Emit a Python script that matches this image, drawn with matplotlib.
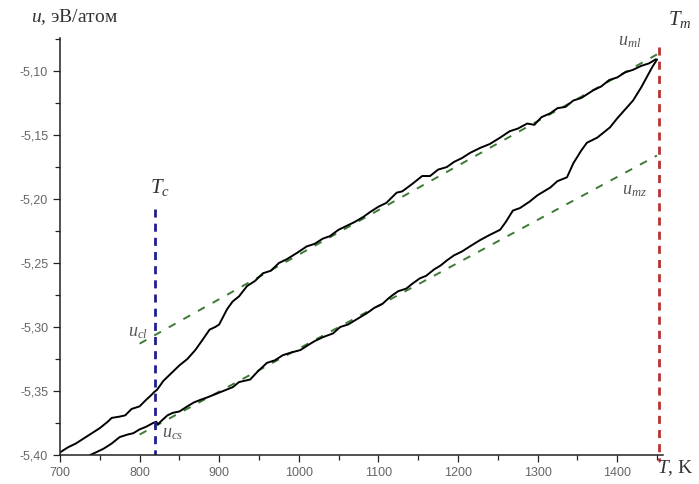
# plot.py - internal energy vs temperature, heating/cooling loop

import matplotlib
matplotlib.use("Agg")  # render to file, no GUI
import matplotlib.pyplot as plt
from matplotlib.ticker import MultipleLocator, FuncFormatter

# Cooling branch (liquid)
t_upper = [700, 710, 720, 730, 740, 750, 760, 765, 775, 782, 790, 800, 808,
           815, 818, 822, 830, 840, 850, 860, 870, 878, 888, 895, 900,
           905, 910, 917, 925, 935, 945, 955, 965, 975, 985, 998, 1010, 1020,
           1030, 1039, 1050, 1060, 1070, 1081, 1090, 1100, 1110, 1123, 1130,
           1143, 1155, 1165, 1175, 1186, 1195, 1205, 1215, 1228, 1240, 1253,
           1265, 1275, 1287, 1296, 1305, 1316, 1325, 1335, 1345, 1355, 1370,
           1380, 1390, 1400, 1410, 1420, 1430, 1440, 1448]
u_upper = [-5.398, -5.394, -5.391, -5.387, -5.383, -5.379, -5.374, -5.371,
           -5.370, -5.369, -5.364, -5.362, -5.357, -5.353, -5.351, -5.349,
           -5.342, -5.336, -5.330, -5.325, -5.318, -5.311, -5.302, -5.300,
           -5.298, -5.292, -5.286, -5.280, -5.276, -5.268, -5.264, -5.258,
           -5.256, -5.250, -5.247, -5.242, -5.237, -5.235, -5.231, -5.229,
           -5.224, -5.221, -5.218, -5.214, -5.210, -5.206, -5.203, -5.195,
           -5.194, -5.188, -5.182, -5.182, -5.177, -5.175, -5.171, -5.168,
           -5.164, -5.160, -5.157, -5.152, -5.147, -5.145, -5.141, -5.142,
           -5.136, -5.133, -5.129, -5.128, -5.123, -5.121, -5.115, -5.112,
           -5.107, -5.105, -5.101, -5.099, -5.096, -5.094, -5.091]

# Heating branch (crystal)
t_lower = [738, 745, 755, 765, 775, 785, 792, 800, 808, 817, 821, 823, 828, 835,
           842, 850, 860, 868, 876, 885, 897, 905, 917, 925, 939, 948, 960, 970,
           980, 990, 1002, 1012, 1020, 1030, 1043, 1052, 1062, 1070, 1078, 1086,
           1095, 1105, 1112, 1118, 1125, 1135, 1143, 1152, 1160, 1170, 1178,
           1186, 1195, 1205, 1215, 1228, 1240, 1253, 1260, 1269, 1278, 1290,
           1300, 1316, 1325, 1337, 1345, 1355, 1362, 1375, 1391, 1400, 1410,
           1420, 1430, 1437, 1444, 1450]
u_lower = [-5.400, -5.398, -5.395, -5.391, -5.386, -5.384, -5.383, -5.380,
           -5.378, -5.375, -5.374, -5.376, -5.373, -5.369, -5.367, -5.366,
           -5.362, -5.359, -5.357, -5.355, -5.352, -5.350, -5.347, -5.343,
           -5.341, -5.335, -5.328, -5.326, -5.322, -5.320, -5.318, -5.314,
           -5.311, -5.308, -5.305, -5.300, -5.298, -5.295, -5.292, -5.289,
           -5.285, -5.282, -5.278, -5.275, -5.272, -5.270, -5.266, -5.262,
           -5.260, -5.255, -5.252, -5.248, -5.244, -5.241, -5.237, -5.232,
           -5.228, -5.224, -5.218, -5.209, -5.207, -5.202, -5.197, -5.191,
           -5.186, -5.183, -5.172, -5.162, -5.156, -5.152, -5.144, -5.137,
           -5.130, -5.123, -5.113, -5.105, -5.097, -5.091]

# Linear fits (green dashed)
fit_t = [800, 1450]
fit_liquid = [-5.313, -5.087]
fit_solid = [-5.384, -5.166]

# Characteristic temperatures
t_c = 820
t_m = 1452

plt.rcParams["mathtext.fontset"] = "custom"
plt.rcParams["mathtext.rm"] = "Liberation Serif"
plt.rcParams["mathtext.it"] = "Liberation Serif:italic"

fig = plt.figure(figsize=(6.99, 4.84), dpi=100)
ax = fig.add_axes([0.0858, 0.0599, 0.862, 0.862])

ax.plot(fit_t, fit_liquid, color="#3d7a35", lw=1.4, linestyle=(0, (4, 4.6)))
ax.plot(fit_t, fit_solid, color="#3d7a35", lw=1.4, linestyle=(0, (4, 4.6)))
ax.plot(t_upper, u_upper, color="black", lw=1.4)
ax.plot(t_lower, u_lower, color="black", lw=1.4)

ax.plot([t_c, t_c], [-5.208, -5.40], color="#1f1f8f", lw=2.0,
        linestyle=(0, (2.9, 2.2)))
ax.plot([t_m, t_m], [-5.081, -5.405], color="#b83232", lw=2.0,
        linestyle=(0, (2.9, 2.2)), clip_on=False)

ax.set_xlim(700, 1457)
ax.set_ylim(-5.40, -5.074)

for side in ["top", "right"]:
    ax.spines[side].set_visible(False)
for side in ["left", "bottom"]:
    ax.spines[side].set_linewidth(1.1)
    ax.spines[side].set_color("#222222")

ax.xaxis.set_major_locator(MultipleLocator(100))
ax.xaxis.set_minor_locator(MultipleLocator(50))
ax.yaxis.set_major_locator(MultipleLocator(0.05))
ax.yaxis.set_minor_locator(MultipleLocator(0.025))
ax.yaxis.set_major_formatter(FuncFormatter(lambda v, p: f"{v:.2f}".replace(".", ",")))
ax.tick_params(which="both", direction="out", color="#222222", width=0.9,
               labelsize=9, labelcolor="#666666")
ax.tick_params(which="major", length=5)
ax.tick_params(which="minor", length=3.5)
for lab in ax.get_xticklabels() + ax.get_yticklabels():
    lab.set_fontfamily("Liberation Sans")

serif = "Liberation Serif"
fig.text(0.045, 0.965, "$u$, эВ/атом", fontsize=14, family=serif,
         color="#333333", va="center", ha="left")
fig.text(0.94, 0.012, "$T$, K", fontsize=14, family=serif,
         color="#333333", va="bottom", ha="left")

ax.text(1479, -5.060, "$T_m$", fontsize=15, family=serif, color="#333333",
        ha="center", va="center", clip_on=False)
ax.text(1416, -5.077, "$u_{ml}$", fontsize=13, family=serif, color="#555555",
        ha="center", va="center")
ax.text(1422, -5.193, "$u_{mz}$", fontsize=13, family=serif, color="#555555",
        ha="center", va="center")
ax.text(826, -5.191, "$T_c$", fontsize=15, family=serif, color="#333333",
        ha="center", va="center")
ax.text(798, -5.304, "$u_{cl}$", fontsize=13, family=serif, color="#555555",
        ha="center", va="center")
ax.text(842, -5.383, "$u_{cs}$", fontsize=13, family=serif, color="#555555",
        ha="center", va="center")

fig.savefig("out.png", dpi=100)
plt.close(fig)
